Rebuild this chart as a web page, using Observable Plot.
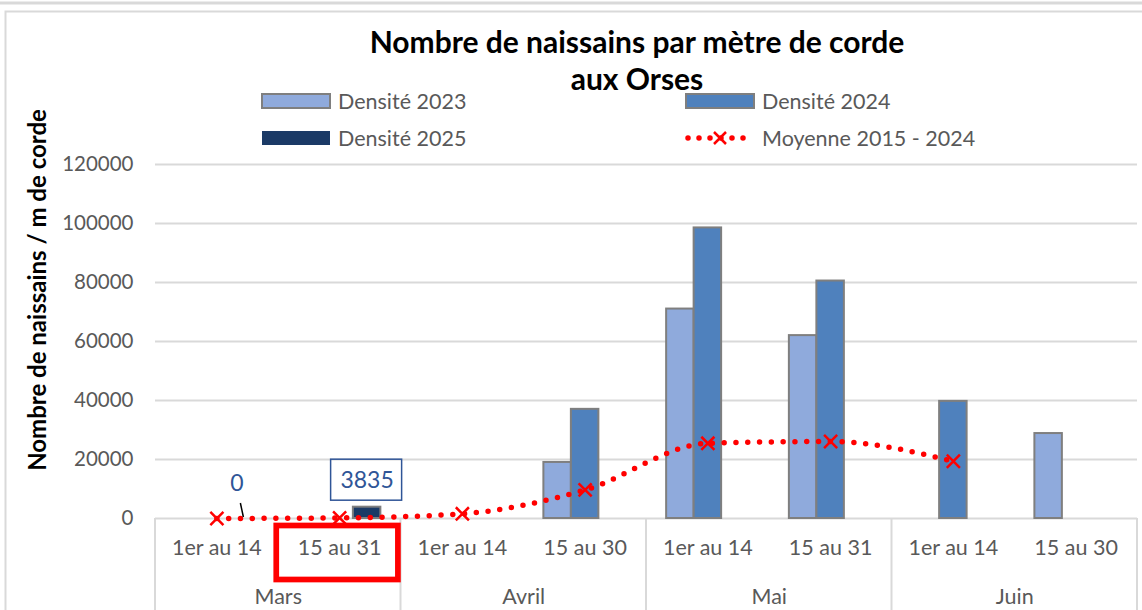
<!DOCTYPE html>
<html><head><meta charset="utf-8">
<script src="https://cdn.jsdelivr.net/npm/d3@7"></script>
<script src="https://cdn.jsdelivr.net/npm/@observablehq/plot@0.6"></script>
<style>
body{margin:0;background:#fff;}
#chart{position:relative;width:1142px;height:610px;overflow:hidden;}
</style></head><body><div id="chart"></div>
<script>
// ---- data ----
const months = ["Mars", "Avril", "Mai", "Juin"];
const periods = ["1er au 14", "15 au 31", "1er au 14", "15 au 30", "1er au 14", "15 au 31", "1er au 14", "15 au 30"];
const monthIndex = [0, 0, 1, 1, 2, 2, 3, 3];
const dens2023 = [null, null, null, 19000, 71000, 62000, null, 28800];
const dens2024 = [null, null, null, 37000, 98500, 80500, 39700, null];
const dens2025 = [0, 3835, null, null, null, null, null, null];
const moyenne = [0, 200, 1600, 9700, 25500, 26100, 19400, null];
const seriesNames = ["Densité 2023", "Densité 2024", "Densité 2025"];
const meanName = "Moyenne 2015 - 2024";
const yTicks = [0, 20000, 40000, 60000, 80000, 100000, 120000];
const titleLines = ["Nombre de naissains par mètre de corde", "aux Orses"];
const yTitle = "Nombre de naissains / m de corde";

// ---- styles ----
const colors = ["#8faadc", "#4f81bd", "#1b3a66"];
const labelBlue = "#2f5597";
const gray = "#595959";
const gridColor = "#d9d9d9";
const FONT = "Lato, sans-serif";
const bw = 0.224; // bar width in category units

const barData = [];
[dens2023, dens2024, dens2025].forEach((vals, k) => vals.forEach((v, i) => {
  if (v != null && v > 0) barData.push({i, k, v, series: seriesNames[k]});
}));
const meanData = moyenne.map((v, i) => ({i, v})).filter(d => d.v != null);
const labelData = dens2025.map((v, i) => ({i, v})).filter(d => d.v != null);

const plot = Plot.plot({
  width: 1142, height: 610,
  marginLeft: 155, marginRight: 5, marginTop: 164, marginBottom: 92,
  x: {type: "linear", domain: [0, 8], axis: null},
  y: {domain: [0, 120000], axis: null},
  color: {domain: seriesNames, range: colors},
  style: {fontFamily: FONT, background: "transparent", overflow: "visible"},
  marks: [
    Plot.ruleY(yTicks, {stroke: gridColor, strokeWidth: 2}),
    Plot.text(yTicks, {y: d => d, text: d => String(d), frameAnchor: "left", dx: -22, textAnchor: "end", fontSize: 20.5, fill: gray}),
    Plot.rectY(barData, {
      x1: d => d.i + 0.5 + (d.k - 1.5) * bw,
      x2: d => d.i + 0.5 + (d.k - 0.5) * bw,
      y1: 0, y2: "v", fill: "series", stroke: "#7f7f7f", strokeWidth: 2
    }),
    Plot.line(meanData, {x: d => d.i + 0.5, y: "v", curve: "monotone-x", stroke: "#ff0000",
      strokeWidth: 5.5, strokeDasharray: "0 11.8", strokeLinecap: "round"}),
    Plot.dot(meanData, {x: d => d.i + 0.5, y: "v", symbol: "times", r: 6, stroke: "#ff0000", strokeWidth: 2.5}),
    Plot.text(periods, {x: (d, i) => i + 0.5, frameAnchor: "bottom", dy: 36, fontSize: 21.5, fill: gray}),
    Plot.text(months, {x: (d, i) => 2 * i + 1, frameAnchor: "bottom", dy: 85, fontSize: 21.5, fill: gray}),
    // data labels for 2025
    Plot.text(labelData.filter(d => d.v === 0), {x: d => d.i + 0.5, y: "v", text: d => String(d.v), dx: 20, dy: -35, fontSize: 23, fill: labelBlue}),
    Plot.text(labelData.filter(d => d.v > 0), {x: d => d.i + 0.5 + bw, y: "v", text: d => String(d.v), dy: -27, fontSize: 23, fill: labelBlue})
  ]
});
document.getElementById("chart").appendChild(plot);

const svg = d3.select(plot);
const xs = plot.scale("x"), ys = plot.scale("y");
const X = v => xs.apply(v), Y = v => ys.apply(v);

// outer frame
svg.insert("line", ":first-child").attr("x1", 0).attr("x2", 1142).attr("y1", 3).attr("y2", 3).attr("stroke", gridColor).attr("stroke-width", 3);
svg.insert("path", ":first-child").attr("d", "M5.5,610V11.5H1142").attr("fill", "none").attr("stroke", gridColor).attr("stroke-width", 2);

// category axis separators
const g = svg.append("g");
[0, 2, 4, 6, 8].forEach(v => g.append("line").attr("x1", X(v)).attr("x2", X(v)).attr("y1", Y(0)).attr("y2", 610).attr("stroke", gridColor).attr("stroke-width", 2));

// leader line for "0" label
labelData.filter(d => d.v === 0).forEach(d => {
  const px = X(d.i + 0.5), py = Y(d.v);
  g.append("line").attr("x1", px + 24).attr("y1", py - 15).attr("x2", px + 27).attr("y2", py - 1).attr("stroke", "#000").attr("stroke-width", 1.5);
});
// box around 3835 label
labelData.filter(d => d.v > 0).forEach(d => {
  const cx = X(d.i + 0.5 + bw) - 0.5, cy = Y(d.v) - 27;
  g.append("rect").attr("x", cx - 35.5).attr("y", cy - 20.5).attr("width", 71).attr("height", 41)
    .attr("fill", "none").attr("stroke", labelBlue).attr("stroke-width", 1.5);
});
// red highlight box on Mars 15 au 31
g.append("rect").attr("x", X(1) - 1.5).attr("y", Y(0) + 7.5).attr("width", X(2) - X(1) - 1.1).attr("height", 54)
  .attr("fill", "none").attr("stroke", "#ff0000").attr("stroke-width", 5.7);

// y axis title
svg.append("text").attr("transform", `translate(46,${290}) rotate(-90)`).attr("text-anchor", "middle")
  .attr("font-family", FONT).attr("font-weight", "bold").attr("font-size", 24).attr("fill", "#000").text(yTitle);

// title
const t = svg.append("g").attr("font-family", FONT).attr("font-weight", "bold").attr("font-size", 30).attr("text-anchor", "middle").attr("fill", "#000");
t.append("text").attr("x", 637).attr("y", 53).text(titleLines[0]);
t.append("text").attr("x", 637).attr("y", 90).text(titleLines[1]);

// legend
const lg = svg.append("g").attr("font-family", FONT).attr("font-size", 21.5).attr("fill", gray).attr("text-anchor", "start");
const legendPos = [[262, 101], [686, 101], [262, 138]];
seriesNames.forEach((name, k) => {
  const [lx, ly] = legendPos[k];
  lg.append("rect").attr("x", lx).attr("y", ly - 7).attr("width", 68).attr("height", 14)
    .attr("fill", colors[k]).attr("stroke", k < 2 ? "#7f7f7f" : "none").attr("stroke-width", 2);
  lg.append("text").attr("x", lx + 76).attr("y", ly).attr("dy", "0.35em").text(name);
});
lg.append("line").attr("x1", 688).attr("x2", 754).attr("y1", 138).attr("y2", 138).attr("stroke", "#ff0000")
  .attr("stroke-width", 5.5).attr("stroke-dasharray", "0 11").attr("stroke-linecap", "round");
lg.append("path").attr("d", "M714,132L726,144M726,132L714,144").attr("stroke", "#ff0000").attr("stroke-width", 2.5);
lg.append("text").attr("x", 762).attr("y", 138).attr("dy", "0.35em").text(meanName);
</script>
</body></html>
